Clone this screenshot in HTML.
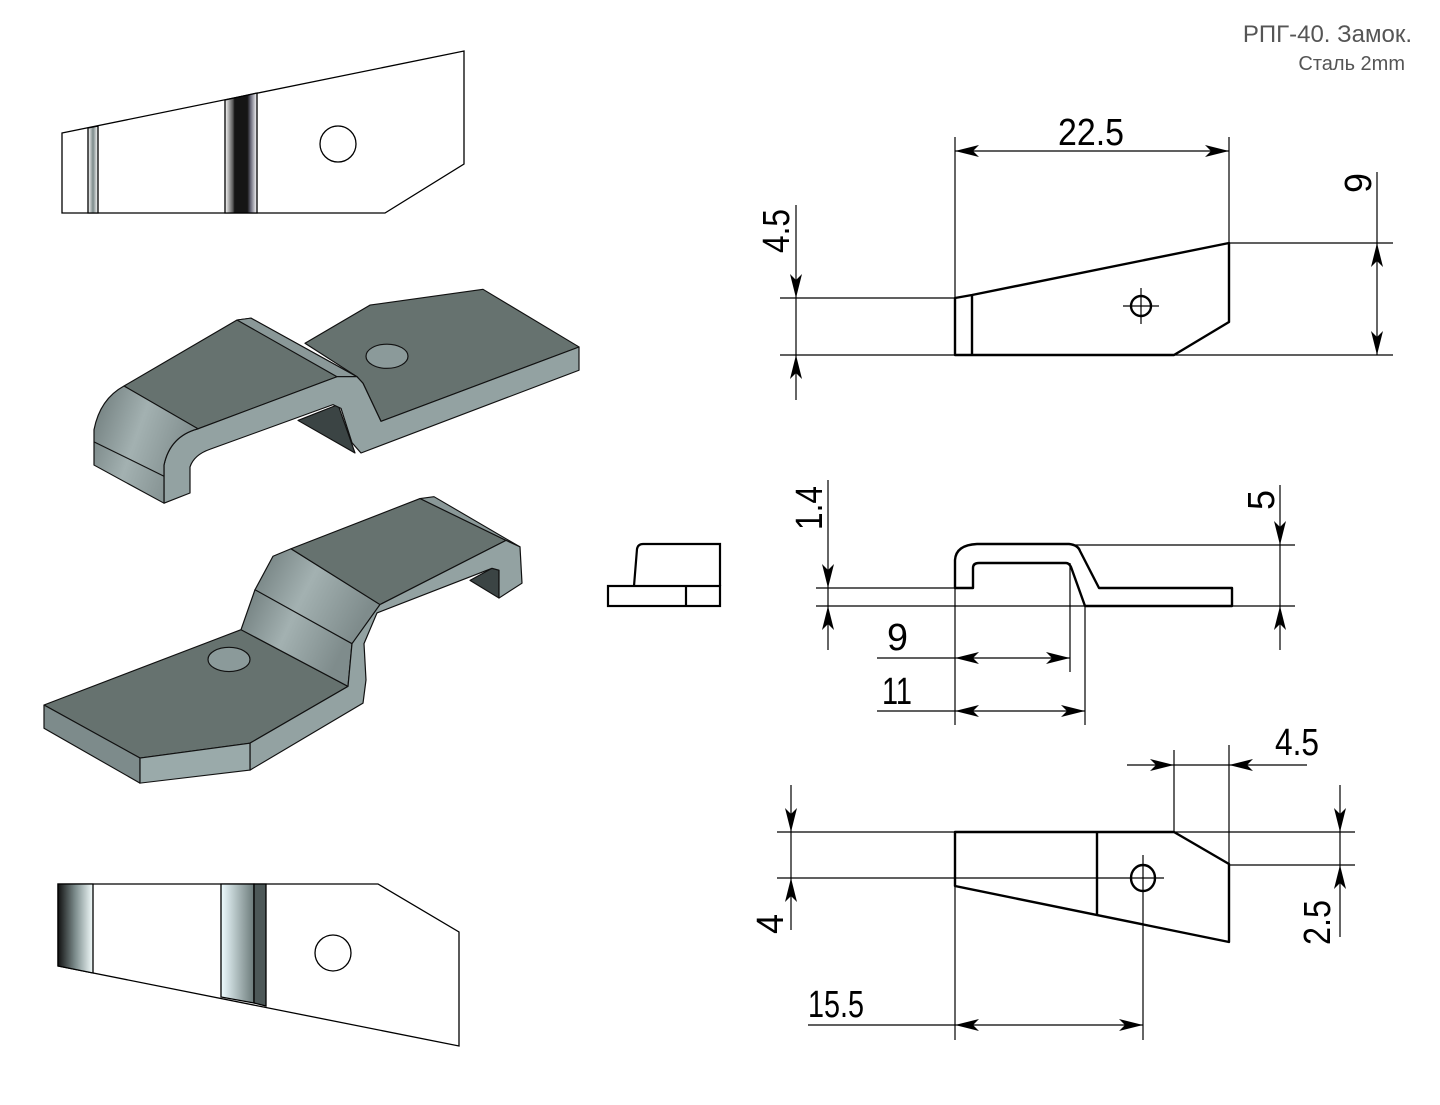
<!DOCTYPE html>
<html><head><meta charset="utf-8"><style>
html,body{margin:0;padding:0;background:#fff;}
svg{display:block;}
.d{font-family:"Liberation Sans",sans-serif;font-size:38px;fill:#000;}
</style></head><body>
<svg width="1440" height="1105" viewBox="0 0 1440 1105" xmlns="http://www.w3.org/2000/svg">
<defs>
<linearGradient id="gA" x1="0" x2="1"><stop offset="0" stop-color="#fff"/><stop offset="0.5" stop-color="#7c8a8a"/><stop offset="1" stop-color="#fff"/></linearGradient>
<linearGradient id="gB" x1="0" x2="1"><stop offset="0" stop-color="#fff"/><stop offset="0.25" stop-color="#555"/><stop offset="0.3" stop-color="#151515"/><stop offset="0.7" stop-color="#151515"/><stop offset="0.8" stop-color="#667"/><stop offset="1" stop-color="#fff"/></linearGradient>
<linearGradient id="gC" x1="0" x2="1"><stop offset="0" stop-color="#111"/><stop offset="0.5" stop-color="#7e8e8e"/><stop offset="1" stop-color="#f2fbfb"/></linearGradient>
<linearGradient id="gD" x1="0" x2="1"><stop offset="0" stop-color="#eefcff"/><stop offset="1" stop-color="#6b7a7a"/></linearGradient>
<linearGradient id="gE" x1="0" x2="1" y1="0" y2="0.4"><stop offset="0" stop-color="#6c7979"/><stop offset="0.5" stop-color="#a3b1b1"/><stop offset="1" stop-color="#7f8c8c"/></linearGradient>
</defs>

<!-- title -->
<text x="1412" y="42" text-anchor="end" font-family="Liberation Sans, sans-serif" font-size="24" fill="#555">РПГ-40. Замок.</text>
<text x="1405" y="70" text-anchor="end" font-family="Liberation Sans, sans-serif" font-size="20" fill="#555">Сталь 2mm</text>

<!-- top flat view -->
<g stroke="#000" stroke-width="1.3">
<polygon points="62,133 464,51 464,164 385,213 62,213" fill="#fff"/>
<polygon points="88,128 98,126 98,213 88,213" fill="url(#gA)"/>
<polygon points="225,100 257,93 257,213 225,213" fill="url(#gB)"/>
<circle cx="338" cy="144" r="18" fill="#fff"/>
</g>

<!-- bottom flat view -->
<g stroke="#000" stroke-width="1.3">
<polygon points="58,884 378,884 459,932 459,1046 58,966" fill="#fff"/>
<polygon points="58,884 93,884 93,973 58,966" fill="url(#gC)"/>
<polygon points="221,884 254,884 254,1003 221,997" fill="url(#gD)"/>
<polygon points="254,884 266,884 266,1006 254,1003" fill="#4d5858"/>
<circle cx="333" cy="953" r="18" fill="#fff"/>
</g>

<g transform="translate(0,280) scale(1,0.93) translate(0,-280)">
<!-- top isometric part -->
<g stroke="#111" stroke-width="1.2" stroke-linejoin="round">
<polygon points="298,431 338,414 355,466" fill="#3b4444"/>
<polygon points="305,348 370,307 483,290 579,352 381,432 363,391 357,384" fill="#66726f"/>
<polygon points="124,394 237,323 251,321 357,384 337,384 198,440" fill="#66726f"/>
<polygon points="237,323 251,321 357,384 337,384" fill="#8a9898"/>
<path d="M198,440 L337,384 L357,384 L363,391 L381,432 L579,352 L579,377 L361,466 L352,455 L341,418 L333,414 L210,462 Q194,468 190,481 L190,509 L164,520 L164,479 Q170,448 198,440 Z" fill="#93a2a2"/>
<path d="M124,394 L198,440 Q170,448 164,479 L164,520 L94,479 L94,441 Q100,408 124,394 Z" fill="url(#gE)"/>
<line x1="94" y1="454" x2="164" y2="491"/>
<ellipse cx="387" cy="362" rx="21" ry="13" fill="#8b9a9a"/>
</g>

<!-- bottom isometric part -->
<g stroke="#111" stroke-width="1.2" stroke-linejoin="round">
<polygon points="470,603 492,590 499,592 499,622" fill="#3b4444"/>
<polygon points="44,737 241,656 348,717 250,778 140,794" fill="#66726f"/>
<polygon points="241,656 255,613 352,671 348,717" fill="url(#gE)"/>
<polygon points="255,613 273,577 291,569 380,629 355,667 352,671" fill="url(#gE)"/>
<polygon points="291,569 420,515 506,560 380,629" fill="#66726f"/>
<polygon points="420,515 434,513 520,567 506,560" fill="#8a9898"/>
<path d="M380,629 L506,560 L520,567 L522,606 L499,622 L499,592 L492,590 L377,638 L364,671 L366,710 L363,735 L250,807 L250,778 L348,717 L352,671 Z" fill="#93a2a2"/>
<polygon points="44,737 140,794 140,821 44,762" fill="#7d8b8b"/>
<polygon points="140,794 250,778 250,807 140,821" fill="#9aaaaa"/>
<ellipse cx="229" cy="688" rx="21" ry="13" fill="#8b9a9a"/>
</g>
</g>

<!-- small side view -->
<g stroke="#000" stroke-width="2.2" fill="none">
<rect x="608" y="586" width="112" height="20"/>
<line x1="686" y1="586" x2="686" y2="606"/>
<path d="M634,586 L637,549 Q638,544 643,544 L720,544 L720,586"/>
</g>

<!-- thin dimension lines -->
<g stroke="#000" stroke-width="1.2" fill="none">
<line x1="955" y1="137" x2="955" y2="298"/>
<line x1="1229" y1="137" x2="1229" y2="243"/>
<line x1="955" y1="151" x2="1229" y2="151"/>
<line x1="780" y1="298" x2="955" y2="298"/>
<line x1="780" y1="355" x2="1393" y2="355"/>
<line x1="1229" y1="243" x2="1393" y2="243"/>
<line x1="796" y1="205" x2="796" y2="400"/>
<line x1="1377" y1="172" x2="1377" y2="355"/>
<line x1="1141" y1="288" x2="1141" y2="324"/>
<line x1="1123" y1="306" x2="1159" y2="306"/>
<line x1="816" y1="588" x2="955" y2="588"/>
<line x1="816" y1="606" x2="1295" y2="606"/>
<line x1="1075" y1="545" x2="1295" y2="545"/>
<line x1="828" y1="480" x2="828" y2="650"/>
<line x1="1280" y1="485" x2="1280" y2="650"/>
<line x1="955" y1="588" x2="955" y2="725"/>
<line x1="1070" y1="563" x2="1070" y2="672"/>
<line x1="1085" y1="607" x2="1085" y2="725"/>
<line x1="877" y1="658" x2="1070" y2="658"/>
<line x1="877" y1="711" x2="1085" y2="711"/>
<line x1="777" y1="832" x2="1355" y2="832"/>
<line x1="777" y1="878" x2="1164" y2="878"/>
<line x1="1229" y1="865" x2="1355" y2="865"/>
<line x1="955" y1="885" x2="955" y2="1040"/>
<line x1="1143" y1="855" x2="1143" y2="1040"/>
<line x1="1174" y1="750" x2="1174" y2="832"/>
<line x1="1229" y1="745" x2="1229" y2="865"/>
<line x1="791" y1="785" x2="791" y2="930"/>
<line x1="1340" y1="785" x2="1340" y2="937"/>
<line x1="1127" y1="765" x2="1307" y2="765"/>
<line x1="808" y1="1025" x2="1143" y2="1025"/>
</g>

<!-- thick outlines -->
<g stroke="#000" stroke-width="2.4" fill="none" stroke-linejoin="round">
<polygon points="955,298 972,295 1229,243 1229,322 1174,355 955,355"/>
<line x1="972" y1="295" x2="972" y2="355"/>
<circle cx="1141" cy="306" r="10"/>
<path d="M955,588 L955,560 Q956,545 977,544 L1069,544 Q1078,545 1080,551 L1099,588 L1232,588 L1232,606 L1085,606 L1071,567 Q1069,563 1066,563 L979,563 Q973,563 973,568 L973,588 Z"/>
<polygon points="955,832 1174,832 1229,864 1229,942 955,886"/>
<line x1="1097" y1="832" x2="1097" y2="914"/>
<ellipse cx="1143" cy="878" rx="12" ry="13"/>
</g>

<!-- arrowheads -->
<g fill="#000">
<polygon points="955,151 979,145 973,151 979,157"/>
<polygon points="1229,151 1205,145 1211,151 1205,157"/>
<polygon points="796,298 790,274 796,280 802,274"/>
<polygon points="796,355 790,379 796,373 802,379"/>
<polygon points="1377,243 1371,267 1377,261 1383,267"/>
<polygon points="1377,355 1371,331 1377,337 1383,331"/>
<polygon points="828,588 822,564 828,570 834,564"/>
<polygon points="828,606 822,630 828,624 834,630"/>
<polygon points="1280,545 1274,521 1280,527 1286,521"/>
<polygon points="1280,606 1274,630 1280,624 1286,630"/>
<polygon points="955,658 979,652 973,658 979,664"/>
<polygon points="1070,658 1046,652 1052,658 1046,664"/>
<polygon points="955,711 979,705 973,711 979,717"/>
<polygon points="1085,711 1061,705 1067,711 1061,717"/>
<polygon points="1174,765 1150,759 1156,765 1150,771"/>
<polygon points="1229,765 1253,759 1247,765 1253,771"/>
<polygon points="791,832 785,808 791,814 797,808"/>
<polygon points="791,878 785,902 791,896 797,902"/>
<polygon points="1340,832 1334,808 1340,814 1346,808"/>
<polygon points="1340,865 1334,889 1340,883 1346,889"/>
<polygon points="955,1025 979,1019 973,1025 979,1031"/>
<polygon points="1143,1025 1119,1019 1125,1025 1119,1031"/>
</g>

<!-- dimension text -->
<text class="d" x="1058" y="145" textLength="66" lengthAdjust="spacingAndGlyphs">22.5</text>
<text class="d" transform="translate(789,253) rotate(-90)" textLength="44" lengthAdjust="spacingAndGlyphs">4.5</text>
<text class="d" transform="translate(1371,193) rotate(-90)" textLength="20" lengthAdjust="spacingAndGlyphs">9</text>
<text class="d" transform="translate(822,530) rotate(-90)" textLength="44" lengthAdjust="spacingAndGlyphs">1.4</text>
<text class="d" transform="translate(1274,510) rotate(-90)" textLength="20" lengthAdjust="spacingAndGlyphs">5</text>
<text class="d" x="887" y="650" textLength="21" lengthAdjust="spacingAndGlyphs">9</text>
<text class="d" x="882" y="704" textLength="30" lengthAdjust="spacingAndGlyphs">11</text>
<text class="d" x="1275" y="755" textLength="44" lengthAdjust="spacingAndGlyphs">4.5</text>
<text class="d" transform="translate(783,934) rotate(-90)" textLength="20" lengthAdjust="spacingAndGlyphs">4</text>
<text class="d" transform="translate(1330,945) rotate(-90)" textLength="45" lengthAdjust="spacingAndGlyphs">2.5</text>
<text class="d" x="808" y="1017" textLength="56" lengthAdjust="spacingAndGlyphs">15.5</text>
</svg>
</body></html>
